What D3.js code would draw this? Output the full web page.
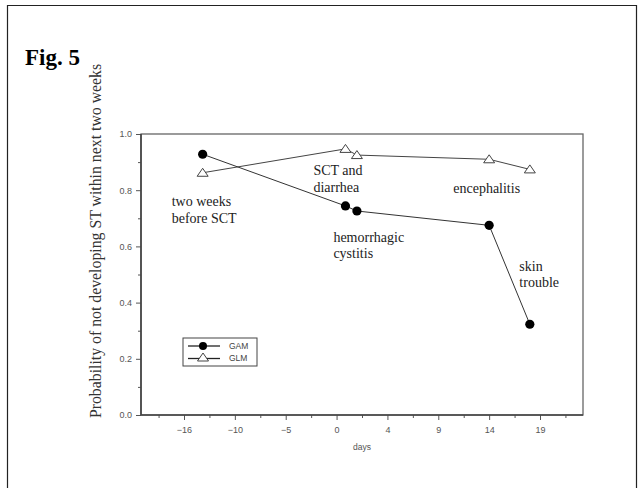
<!DOCTYPE html>
<html>
<head>
<meta charset="utf-8">
<script src="https://cdn.jsdelivr.net/npm/d3@7"></script>
<style>
  body { margin: 0; background: #fff; }
  text { font-family: "Liberation Sans", Arial, sans-serif; }
  .serif { font-family: "Liberation Serif", "Times New Roman", serif; }
</style>
</head>
<body>
<script>
// data
var seriesNames = ["GAM", "GLM"];
var days = [-13.8, 0.7, 1.6, 14, 18];
var gam = [0.928, 0.744, 0.726, 0.675, 0.323];
var glm = [0.862, 0.947, 0.925, 0.91, 0.874];
var xTicks = [-16, -10, -5, 0, 4, 9, 14, 19];
var yTicks = [0, 0.2, 0.4, 0.6, 0.8, 1.0];
var notes = [
  {lines: ["two weeks", "before SCT"], day: -17.45, p: 0.744},
  {lines: ["SCT and", "diarrhea"], day: -2.28, p: 0.854},
  {lines: ["hemorrhagic", "cystitis"], day: -0.31, p: 0.617},
  {lines: ["encephalitis"], day: 10.47, p: 0.791},
  {lines: ["skin", "trouble"], day: 16.97, p: 0.5135}
];

var width = 642,
    height = 488;

// plot box edges ("top" is taken by window.top)
var pLeft = 141, pRight = 583, pTop = 134, pBottom = 415;

var svg = d3.select("body").append("svg")
  .attr("width", width)
  .attr("height", height);

// page frame
svg.append("path")
  .attr("d", "M7.5," + height + "V5.5H636.5V" + height)
  .attr("fill", "none")
  .attr("stroke", "#222")
  .attr("stroke-width", 1.2);

svg.append("text")
  .attr("class", "serif")
  .attr("x", 25)
  .attr("y", 65)
  .style("font-size", "23px")
  .style("font-weight", "bold")
  .text("Fig. 5");

// the tick labels are equally spaced though their values are not
var step = (540 - 184) / (xTicks.length - 1);
var x = d3.scaleLinear()
  .domain(xTicks)
  .range(xTicks.map(function(d, i){ return 184 + i * step; }));

var y = d3.scaleLinear().domain([0, 1]).range([pBottom, pTop]);

// minor ticks halfway between the labelled ones, plus one at each end
var xMinor = [];
for (var i = 0; i < xTicks.length - 1; i++) {
  xMinor.push(x.invert((x(xTicks[i]) + x(xTicks[i + 1])) / 2));
}
xMinor.unshift(x.invert(x(xTicks[0]) - step / 2));
xMinor.push(x.invert(x(xTicks[xTicks.length - 1]) + step / 2));
var yMinor = [0.1, 0.3, 0.5, 0.7, 0.9];

// plot box
svg.append("rect")
  .attr("x", pLeft)
  .attr("y", pTop)
  .attr("width", pRight - pLeft)
  .attr("height", pBottom - pTop)
  .attr("fill", "none")
  .attr("stroke", "#666")
  .attr("stroke-width", 1.3);

var gx = svg.append("g")
  .attr("transform", "translate(0," + pBottom + ")")
  .call(d3.axisBottom(x)
    .tickValues(xTicks)
    .tickSize(5)
    .tickPadding(7)
    .tickFormat(function(d){ return d < 0 ? "\u2212" + (-d) : d; }));
gx.append("g").call(d3.axisBottom(x).tickValues(xMinor).tickSize(3).tickFormat(""));

var gy = svg.append("g")
  .attr("transform", "translate(" + pLeft + ",0)")
  .call(d3.axisLeft(y)
    .tickValues(yTicks)
    .tickSize(5)
    .tickPadding(4)
    .tickFormat(d3.format(".1f")));
gy.append("g").call(d3.axisLeft(y).tickValues(yMinor).tickSize(3).tickFormat(""));

svg.selectAll(".domain").remove();
svg.selectAll(".tick line").attr("stroke", "#555");
svg.selectAll(".tick text")
  .attr("fill", "#555")
  .style("font-size", "9px")
  .style("font-family", "'Liberation Sans', Arial, sans-serif");

// darker left and bottom axis lines
svg.append("path")
  .attr("d", "M" + pLeft + "," + pTop + "V" + pBottom + "H" + pRight)
  .attr("fill", "none")
  .attr("stroke", "#444")
  .attr("stroke-width", 1.6);

svg.append("text")
  .attr("x", 362)
  .attr("y", 450)
  .attr("text-anchor", "middle")
  .attr("fill", "#555")
  .style("font-size", "8.5px")
  .text("days");

svg.append("text")
  .attr("class", "serif")
  .attr("transform", "translate(101,241) rotate(-90)")
  .attr("text-anchor", "middle")
  .attr("fill", "#333")
  .style("font-size", "15.8px")
  .text("Probability of not developing ST within next two weeks");

var line = d3.line()
  .x(function(d){ return x(d[0]); })
  .y(function(d){ return y(d[1]); });

var gamPts = d3.zip(days, gam),
    glmPts = d3.zip(days, glm);

svg.append("path")
  .attr("d", line(glmPts))
  .attr("fill", "none")
  .attr("stroke", "#444")
  .attr("stroke-width", 1);

svg.append("path")
  .attr("d", line(gamPts))
  .attr("fill", "none")
  .attr("stroke", "#333")
  .attr("stroke-width", 1);

function tri(cx, cy) {
  return "M" + cx + "," + (cy - 4.5) + "L" + (cx + 5.5) + "," + (cy + 3.5) +
    "L" + (cx - 5.5) + "," + (cy + 3.5) + "Z";
}

svg.selectAll(".glm").data(glmPts)
  .enter().append("path")
  .attr("class", "glm")
  .attr("d", function(d){ return tri(x(d[0]), y(d[1])); })
  .attr("fill", "#fff")
  .attr("stroke", "#444")
  .attr("stroke-width", 1);

svg.selectAll(".gam").data(gamPts)
  .enter().append("circle")
  .attr("class", "gam")
  .attr("cx", function(d){ return x(d[0]); })
  .attr("cy", function(d){ return y(d[1]); })
  .attr("r", 4.6)
  .attr("fill", "#000");

// annotations
var note = svg.selectAll(".note").data(notes)
  .enter().append("text")
  .attr("class", "note serif")
  .attr("fill", "#222")
  .style("font-size", "14px");
note.selectAll("tspan").data(function(d){
    return d.lines.map(function(l, i){ return {t: l, i: i, d: d}; });
  })
  .enter().append("tspan")
  .attr("x", function(e){ return x(e.d.day); })
  .attr("y", function(e){ return y(e.d.p) + e.i * 16.6; })
  .text(function(e){ return e.t; });

// legend
var lg = svg.append("g").attr("transform", "translate(183,338)");
lg.append("rect")
  .attr("width", 74)
  .attr("height", 28)
  .attr("fill", "#fff")
  .attr("stroke", "#444")
  .attr("stroke-width", 1);
var item = lg.selectAll(".item").data(seriesNames)
  .enter().append("g")
  .attr("transform", function(d, i){ return "translate(0," + (8 + i * 12.5) + ")"; });
item.append("line")
  .attr("x1", 5).attr("x2", 37)
  .attr("stroke", "#222")
  .attr("stroke-width", 1.3);
item.each(function(d, i){
  var g = d3.select(this);
  if (i === 0) {
    g.append("circle").attr("cx", 20).attr("r", 4).attr("fill", "#000");
  } else {
    g.append("path").attr("d", tri(20, -1)).attr("fill", "#fff").attr("stroke", "#444");
  }
});
item.append("text")
  .attr("x", 46)
  .attr("dy", "0.35em")
  .attr("fill", "#444")
  .style("font-size", "8.5px")
  .text(function(d){ return d; });
</script>
</body>
</html>
